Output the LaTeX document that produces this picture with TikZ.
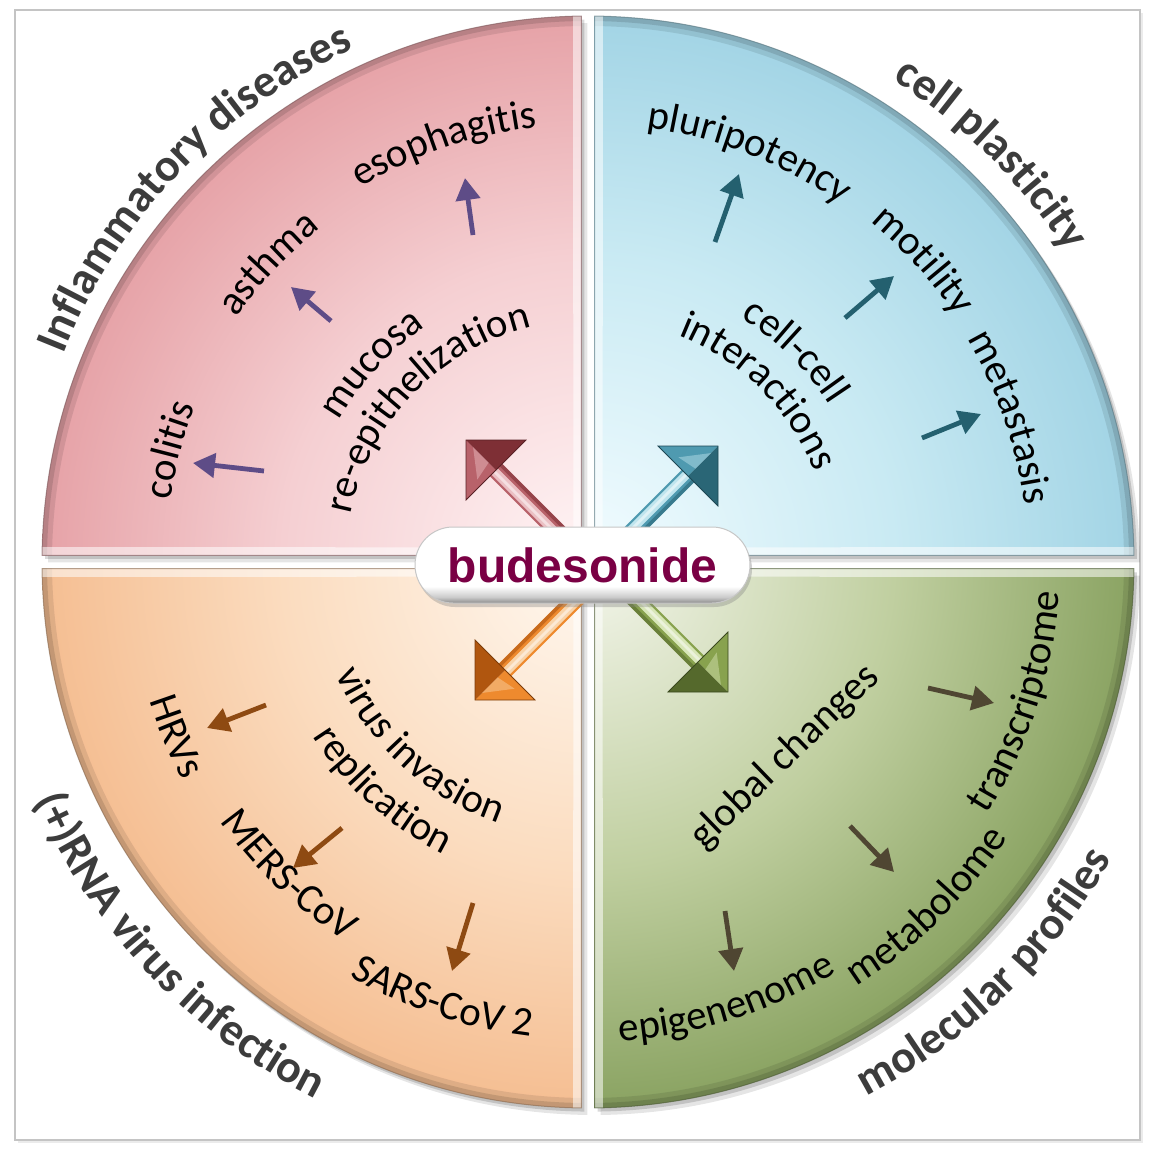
\documentclass[tikz,border=0pt]{standalone}
\usepackage{fontspec}
\setmainfont{Carlito}
\newfontfamily\arialfont{Liberation Sans}
\usetikzlibrary{decorations.text,arrows.meta,shadows}

\definecolor{labelgray}{HTML}{3C3C3C}
\definecolor{framegray}{HTML}{C4C4C4}
\definecolor{budcolor}{HTML}{7A0044}
\definecolor{tlDark}{HTML}{E6A2A7}
\definecolor{tlMid}{HTML}{F5CFD2}
\definecolor{tlLight}{HTML}{FFF4F5}
\definecolor{trDark}{HTML}{A2D4E5}
\definecolor{trMid}{HTML}{C9EAF3}
\definecolor{trLight}{HTML}{F2FCFF}
\definecolor{blDark}{HTML}{F5BE92}
\definecolor{blMid}{HTML}{FBDCBF}
\definecolor{blLight}{HTML}{FFF8F0}
\definecolor{brDark}{HTML}{8AA362}
\definecolor{brMid}{HTML}{C0CFA0}
\definecolor{brLight}{HTML}{F4F6EC}
\definecolor{arPurple}{HTML}{5E4C87}
\definecolor{arTeal}{HTML}{24606F}
\definecolor{arBrown}{HTML}{8E4A12}
\definecolor{arOlive}{HTML}{4F4632}
\definecolor{bTLd}{HTML}{7E2F35}\definecolor{bTLm}{HTML}{B8626A}\definecolor{bTLl}{HTML}{EBC0C4}
\definecolor{bTRd}{HTML}{2A6676}\definecolor{bTRm}{HTML}{4F9AB0}\definecolor{bTRl}{HTML}{C0E5EE}
\definecolor{bBLd}{HTML}{B0560F}\definecolor{bBLm}{HTML}{EE8A2E}\definecolor{bBLl}{HTML}{F9D4AA}
\definecolor{bBRd}{HTML}{55692C}\definecolor{bBRm}{HTML}{88A24E}\definecolor{bBRl}{HTML}{D8E6B8}
\colorlet{qlight}{white}\colorlet{qmid}{gray}\colorlet{qdark}{black}

\pgfdeclareradialshading[qlight,qmid,qdark]{quadshade}{\pgfpoint{0bp}{0bp}}{color(0bp)=(qlight); color(14bp)=(qmid); color(25bp)=(qdark); color(50bp)=(qdark)}
\pgfdeclareverticalshading{pillshade}{100bp}{color(0bp)=(black!50); color(25bp)=(black!45); color(29bp)=(black!20); color(36bp)=(white); color(100bp)=(white)}

\newcommand\drawquad[6]{%
  \colorlet{qlight}{#4}\colorlet{qmid}{#5}\colorlet{qdark}{#6}%
  \fill[black, opacity=0.10, shift={(3,-3.5)}] ({#1*3.3},{#2*3.3}) -- (#3+0.7:273) arc[start angle=#3+0.7, end angle=#3+89.3, radius=273pt] -- cycle;
  \fill[black, opacity=0.15, shift={(1.5,-1.8)}] ({#1*3.3},{#2*3.3}) -- (#3+0.7:273) arc[start angle=#3+0.7, end angle=#3+89.3, radius=273pt] -- cycle;
  \begin{scope}
    \clip ({#1*3.3},{#2*3.3}) -- (#3+0.7:273) arc[start angle=#3+0.7, end angle=#3+89.3, radius=273pt] -- cycle;
    \shade[shading=quadshade] (0,0) circle (273pt);
    \draw[line width=10pt, qdark!70!black, opacity=0.30] (0,0) circle (273pt);
    \draw[line width=3pt, qdark!55!black, opacity=0.30] (0,0) circle (272pt);
    \draw[line width=8pt, white, opacity=0.55] (#3+0.7:285) -- ({#1*3.3},{#2*3.3}) -- (#3+89.3:285);
  \end{scope}
  \draw[qdark!55!black, line width=0.5pt, opacity=0.6] ({#1*3.3},{#2*3.3}) -- (#3+0.7:273) arc[start angle=#3+0.7, end angle=#3+89.3, radius=273pt] -- cycle;
}

% curved text: radius, centre angle, format, text
\newcommand\cwtext[4]{%
  \path[decorate, decoration={text along path, text align=center, text={|#3|#4}}]
    (#2+75:#1) arc[start angle=#2+75, end angle=#2-75, radius=#1pt];}
\newcommand\ccwtext[4]{%
  \path[decorate, decoration={text along path, text align=center, text={|#3|#4}}]
    (#2-75:#1) arc[start angle=#2-75, end angle=#2+75, radius=#1pt];}

\newcommand\outerfmt{\bfseries\fontsize{23}{27}\selectfont\color{labelgray}}
\newcommand\innerfmt{\fontsize{20.5}{24}\selectfont\color{black}}

% big 3D arrow: tip coordinate, direction, dark, mid, light
\newcommand\bigarrow[5]{%
  \begin{scope}[shift={(#1)}, rotate=#2]
    \fill[#4] (-100,-4.4) rectangle (-20,4.4);
    \fill[#5] (-100,-1.2) rectangle (-20,3.2);
    \fill[white, opacity=0.5] (-100,0.4) rectangle (-20,1.8);
    \fill[#3, opacity=0.6] (-100,-4.4) rectangle (-20,-2.6);
    \fill[#4] (0,0) -- (-21.2,21.2) -- (-21.2,0) -- cycle;
    \fill[#3] (0,0) -- (-21.2,-21.2) -- (-21.2,0) -- cycle;
    \fill[#5, opacity=0.45] (-5,0) -- (-18,10) -- (-16,0) -- cycle;
    \draw[#3!70!black, line width=0.4pt] (0,0) -- (-21.2,21.2) -- (-21.2,-21.2) -- cycle;
  \end{scope}}

\tikzset{
  smallarr/.style={line width=2.4pt, -{Triangle[length=11pt,width=12pt]}},
  innertext/.style={font=\fontsize{20.5}{24}\selectfont, inner sep=0pt},
  pill/.style={shade, shading=pillshade, rounded corners=19pt, minimum width=167.5pt,
    minimum height=38pt, inner sep=0pt, draw=black!22, line width=0.5pt, text=budcolor,
    font=\arialfont\bfseries\fontsize{24}{28}\selectfont,
    drop shadow={shadow xshift=1pt, shadow yshift=-2pt, opacity=0.35}}
}

\begin{document}
\begin{tikzpicture}[x=1pt,y=1pt]
\useasboundingbox (-294,-295) rectangle (286,281);
\fill[white] (-294,-295) rectangle (286,281);
% frame
\fill[black!8] (-285,-290.5) rectangle (277.5,274.5);
\draw[framegray, line width=1.3pt, fill=white] (-286.5,-289) rectangle (276,276);

% quadrants
\drawquad{-1}{1}{90}{tlLight}{tlMid}{tlDark}
\drawquad{1}{1}{0}{trLight}{trMid}{trDark}
\drawquad{-1}{-1}{180}{blLight}{blMid}{blDark}
\drawquad{1}{-1}{270}{brLight}{brMid}{brDark}

% outer labels
\cwtext{282}{136.5}{\outerfmt}{Inflammatory diseases}
\cwtext{285}{45.3}{\outerfmt}{cell plasticity}
\ccwtext{301}{223.2}{\outerfmt}{(+)RNA virus infection}
\ccwtext{301}{314}{\outerfmt}{molecular profiles}

% inner texts: top left
\cwtext{219}{109}{\innerfmt}{esophagitis}
\cwtext{214}{137}{\innerfmt}{asthma}
\cwtext{211}{165}{\innerfmt}{colitis}
\cwtext{143}{137.5}{\innerfmt}{mucosa}
\cwtext{121}{136}{\innerfmt}{re-epithelization}
% top right
\cwtext{219}{68.5}{\innerfmt}{pluripotency}
\cwtext{221}{42}{\innerfmt}{motility}
\cwtext{220}{19}{\innerfmt}{metastasis}
\cwtext{144}{45.5}{\innerfmt}{cell-cell}
\cwtext{122}{45}{\innerfmt}{interactions}
% bottom left
\ccwtext{138}{227.5}{\innerfmt}{virus invasion}
\ccwtext{163}{228}{\innerfmt}{replication}
\ccwtext{230}{203}{\innerfmt}{HRVs}
\ccwtext{225}{226.3}{\innerfmt}{MERS-CoV}
\ccwtext{239}{251.6}{\innerfmt}{SARS-CoV 2}
% bottom right
\node[innertext, rotate=44] (glob) at (98.5,-97.5) {global changes};
\ccwtext{240}{287.5}{\innerfmt}{epigenenome}
\ccwtext{251}{314.5}{\innerfmt}{metabolome}
\ccwtext{236}{342}{\innerfmt}{transcriptome}

% small arrows
\coordinate (colA) at (-162,45.5);   \coordinate (colB) at (-197.5,49.5);
\coordinate (astA) at (-128.5,120.5); \coordinate (astB) at (-148.5,137.5);
\coordinate (esoA) at (-57.5,163.5); \coordinate (esoB) at (-61.5,192);
\draw[smallarr, arPurple] (colA) -- (colB);
\draw[smallarr, arPurple] (astA) -- (astB);
\draw[smallarr, arPurple] (esoA) -- (esoB);

\coordinate (pluA) at (63.5,160);  \coordinate (pluB) at (75.5,194);
\coordinate (motA) at (128.5,122); \coordinate (motB) at (153,143);
\coordinate (metA) at (167,62);    \coordinate (metB) at (196.5,74);
\draw[smallarr, arTeal] (pluA) -- (pluB);
\draw[smallarr, arTeal] (motA) -- (motB);
\draw[smallarr, arTeal] (metA) -- (metB);

\coordinate (hrvA) at (-161,-71.5);  \coordinate (hrvB) at (-190.5,-83);
\coordinate (merA) at (-123,-133);   \coordinate (merB) at (-147.5,-153);
\coordinate (sarA) at (-57.5,-170.5); \coordinate (sarB) at (-68,-204.5);
\draw[smallarr, arBrown] (hrvA) -- (hrvB);
\draw[smallarr, arBrown] (merA) -- (merB);
\draw[smallarr, arBrown] (sarA) -- (sarB);

\coordinate (epiA) at (68.5,-174.5); \coordinate (epiB) at (73,-204.5);
\coordinate (mtbA) at (131,-132);    \coordinate (mtbB) at (153,-155);
\coordinate (traA) at (170,-63);     \coordinate (traB) at (203,-70.5);
\draw[smallarr, arOlive] (epiA) -- (epiB);
\draw[smallarr, arOlive] (mtbA) -- (mtbB);
\draw[smallarr, arOlive] (traA) -- (traB);

% big arrows from the centre
\coordinate (tlTip) at (-61,61);
\coordinate (trTip) at (65,58);
\coordinate (blTip) at (-56.5,-69);
\coordinate (brTip) at (70,-65);
\bigarrow{tlTip}{135}{bTLd}{bTLm}{bTLl}
\bigarrow{trTip}{45}{bTRd}{bTRm}{bTRl}
\bigarrow{blTip}{225}{bBLd}{bBLm}{bBLl}
\bigarrow{brTip}{315}{bBRd}{bBRm}{bBRl}

% central pill
\node[pill] (bud) at (-2.75,-1.5) {budesonide};
\end{tikzpicture}
\end{document}
